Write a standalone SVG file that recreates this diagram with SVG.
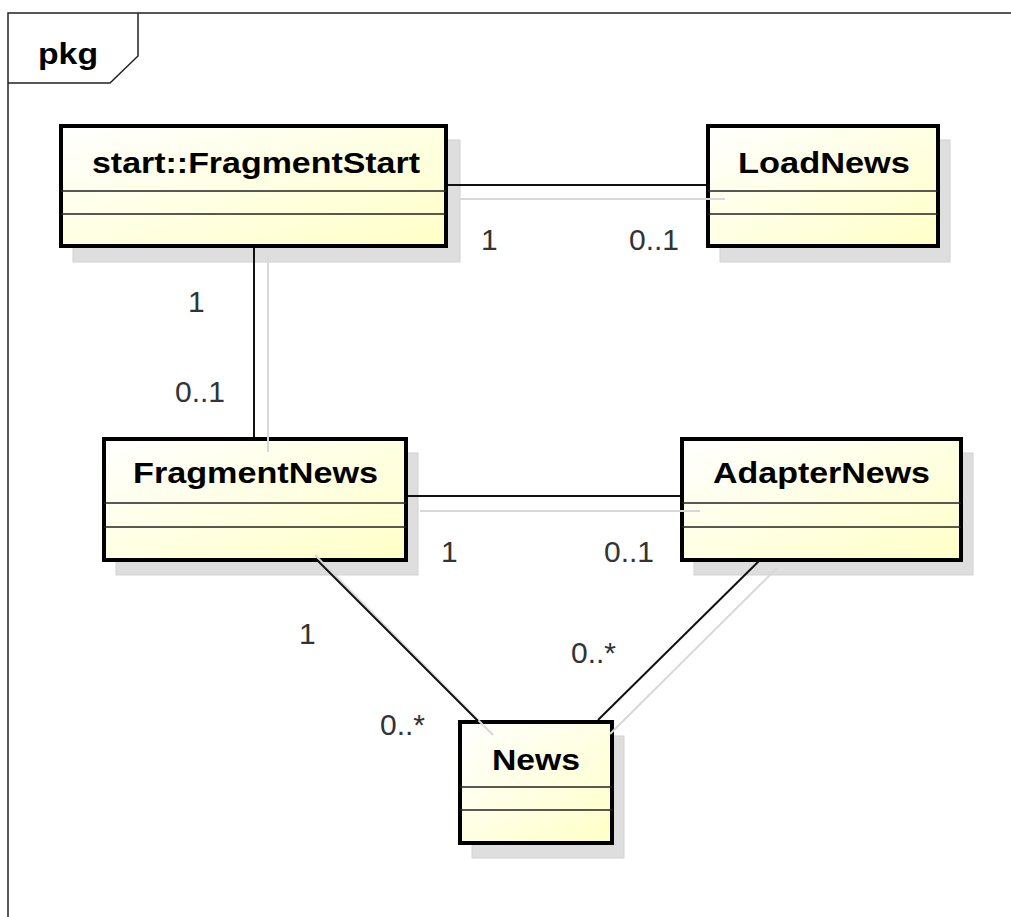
<svg xmlns="http://www.w3.org/2000/svg" width="1011" height="917" viewBox="0 0 1011 917">
  <defs>
    <linearGradient id="cls" x1="0" y1="0" x2="1" y2="1">
      <stop offset="0" stop-color="#ffffff"/>
      <stop offset="1" stop-color="#ffffc8"/>
    </linearGradient>
    <style>
      .frame{fill:none;stroke:#222;stroke-width:1.5}
      .shadow{fill:#dedede;stroke:#d2d2d2;stroke-width:1}
      .box{fill:url(#cls);stroke:#000;stroke-width:4}
      .sep{stroke:#222;stroke-width:1.5}
      .name{font-family:"Liberation Sans",Arial,sans-serif;font-weight:bold;font-size:30px;fill:#000}
      .mult{font-family:"Liberation Sans",Arial,sans-serif;font-size:30px;fill:#333}
      .edge{stroke:#111;stroke-width:2;fill:none}
      .eshadow{stroke:#d8d8d8;stroke-width:2;fill:none}
    </style>
  </defs>
  <rect width="1011" height="917" fill="#ffffff"/>
  <g id="frame">
    <path class="frame" d="M1015,13 L8,13 L8,925"/>
    <path class="frame" d="M8,83 L110,83 L138,56 L138,13"/>
    <text class="name" x="38" y="64" textLength="60" lengthAdjust="spacingAndGlyphs">pkg</text>
  </g>
  <g id="node-FragmentStart">
    <rect class="shadow" x="73" y="140" width="387" height="122"/>
    <rect class="box" x="61" y="126" width="385" height="120"/>
    <line class="sep" x1="61" y1="191" x2="446" y2="191"/>
    <line class="sep" x1="61" y1="214" x2="446" y2="214"/>
    <text class="name" x="92" y="173" textLength="328" lengthAdjust="spacingAndGlyphs">start::FragmentStart</text>
  </g>
  <g id="node-LoadNews">
    <rect class="shadow" x="720" y="140" width="230" height="122"/>
    <rect class="box" x="708" y="126" width="230" height="120"/>
    <line class="sep" x1="708" y1="191" x2="938" y2="191"/>
    <line class="sep" x1="708" y1="214" x2="938" y2="214"/>
    <text class="name" x="738" y="173" textLength="172" lengthAdjust="spacingAndGlyphs">LoadNews</text>
  </g>
  <g id="node-FragmentNews">
    <rect class="shadow" x="116" y="453" width="302" height="122"/>
    <rect class="box" x="104" y="439" width="302" height="121"/>
    <line class="sep" x1="104" y1="503" x2="406" y2="503"/>
    <line class="sep" x1="104" y1="527" x2="406" y2="527"/>
    <text class="name" x="133" y="483" textLength="245" lengthAdjust="spacingAndGlyphs">FragmentNews</text>
  </g>
  <g id="node-AdapterNews">
    <rect class="shadow" x="694" y="453" width="279" height="122"/>
    <rect class="box" x="682" y="439" width="279" height="121"/>
    <line class="sep" x1="682" y1="503" x2="961" y2="503"/>
    <line class="sep" x1="682" y1="527" x2="961" y2="527"/>
    <text class="name" x="713" y="483" textLength="217" lengthAdjust="spacingAndGlyphs">AdapterNews</text>
  </g>
  <g id="node-News">
    <rect class="shadow" x="472" y="736" width="152" height="122"/>
    <rect class="box" x="460" y="722" width="152" height="121"/>
    <line class="sep" x1="460" y1="787" x2="612" y2="787"/>
    <line class="sep" x1="460" y1="810" x2="612" y2="810"/>
    <text class="name" x="492" y="770" textLength="88" lengthAdjust="spacingAndGlyphs">News</text>
  </g>
  <g id="connectors">
    <line class="eshadow" x1="460" y1="199" x2="725" y2="199"/>
    <line class="eshadow" x1="268" y1="258" x2="268" y2="452"/>
    <line class="eshadow" x1="420" y1="511" x2="700" y2="511"/>
    <line class="eshadow" x1="315" y1="555" x2="493" y2="735"/>
    <line class="eshadow" x1="777" y1="568" x2="610" y2="734"/>
    <line class="edge" x1="448" y1="185" x2="706" y2="185"/>
    <line class="edge" x1="254" y1="248" x2="254" y2="437"/>
    <line class="edge" x1="408" y1="496" x2="680" y2="496"/>
    <line class="edge" x1="318" y1="561" x2="478" y2="721"/>
    <line class="edge" x1="759" y1="561" x2="598" y2="720"/>
    <text class="mult" x="481" y="250">1</text>
    <text class="mult" x="629" y="250">0..1</text>
    <text class="mult" x="188" y="312">1</text>
    <text class="mult" x="175" y="402">0..1</text>
    <text class="mult" x="441" y="562">1</text>
    <text class="mult" x="604" y="562">0..1</text>
    <text class="mult" x="299" y="644">1</text>
    <text class="mult" x="380" y="735">0..*</text>
    <text class="mult" x="571" y="663">0..*</text>
  </g>
</svg>
